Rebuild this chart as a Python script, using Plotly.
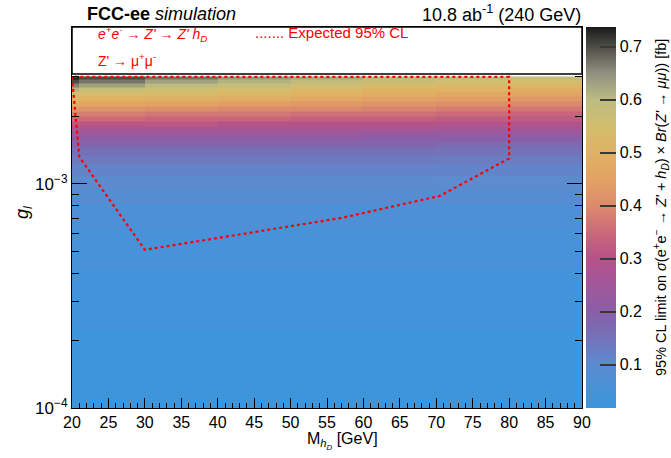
import plotly.graph_objects as go

# ---------------- data ----------------
mass_edges = [20, 21, 30, 40, 50, 60, 70, 80, 90]
g_edges = [1.0e-4, 2.234e-4, 4.14e-4, 6.24e-4, 8.06e-4, 9.40e-4, 1.075e-3, 1.215e-3,
           1.333e-3, 1.447e-3, 1.539e-3, 1.620e-3, 1.705e-3, 1.795e-3, 1.890e-3,
           1.989e-3, 2.094e-3, 2.204e-3, 2.321e-3, 2.443e-3, 2.572e-3, 2.693e-3,
           2.806e-3, 2.909e-3, 3.015e-3]
# 95% CL limit [fb], rows from lowest g to highest g, columns along mass
limit_fb = [
    [0.025, 0.025, 0.025, 0.025, 0.025, 0.025, 0.025, 0.025],
    [0.035, 0.035, 0.035, 0.035, 0.035, 0.035, 0.035, 0.035],
    [0.050, 0.050, 0.050, 0.050, 0.050, 0.050, 0.050, 0.050],
    [0.065, 0.065, 0.065, 0.065, 0.065, 0.065, 0.065, 0.065],
    [0.085, 0.085, 0.085, 0.085, 0.085, 0.085, 0.085, 0.085],
    [0.100, 0.100, 0.100, 0.100, 0.100, 0.100, 0.100, 0.100],
    [0.115, 0.115, 0.115, 0.115, 0.115, 0.115, 0.112, 0.112],
    [0.135, 0.135, 0.135, 0.135, 0.133, 0.133, 0.130, 0.130],
    [0.155, 0.155, 0.155, 0.155, 0.153, 0.152, 0.150, 0.150],
    [0.180, 0.180, 0.180, 0.180, 0.180, 0.180, 0.170, 0.170],
    [0.210, 0.210, 0.210, 0.210, 0.210, 0.200, 0.200, 0.200],
    [0.240, 0.240, 0.240, 0.240, 0.240, 0.230, 0.230, 0.230],
    [0.280, 0.270, 0.270, 0.270, 0.270, 0.270, 0.260, 0.260],
    [0.310, 0.310, 0.310, 0.300, 0.300, 0.300, 0.290, 0.290],
    [0.350, 0.350, 0.340, 0.340, 0.330, 0.330, 0.320, 0.320],
    [0.390, 0.380, 0.370, 0.370, 0.360, 0.360, 0.350, 0.340],
    [0.430, 0.420, 0.410, 0.400, 0.400, 0.390, 0.380, 0.370],
    [0.480, 0.460, 0.450, 0.440, 0.430, 0.420, 0.410, 0.400],
    [0.520, 0.500, 0.490, 0.480, 0.470, 0.450, 0.440, 0.430],
    [0.560, 0.540, 0.530, 0.520, 0.500, 0.480, 0.470, 0.460],
    [0.610, 0.580, 0.560, 0.550, 0.530, 0.510, 0.500, 0.490],
    [0.660, 0.630, 0.600, 0.580, 0.560, 0.540, 0.530, 0.520],
    [0.700, 0.670, 0.630, 0.610, 0.590, 0.570, 0.560, 0.550],
    [0.740, 0.700, 0.670, 0.640, 0.620, 0.600, 0.590, 0.580],
]
# expected 95% CL contour
cl_mass = [20.0, 20.2, 20.65, 21.0, 30.0, 57.0, 70.5, 80.0, 80.0, 20.0]
cl_g = [3.0e-3, 2.55e-3, 1.8e-3, 1.32e-3, 5.08e-4, 7.05e-4, 8.84e-4, 1.30e-3, 3.0e-3, 3.0e-3]

x_ticks = [20, 25, 30, 35, 40, 45, 50, 55, 60, 65, 70, 75, 80, 85, 90]
y_ticks = [1e-4, 1e-3]
y_ticktext = ["10<sup>\u22124</sup>", "10<sup>\u22123</sup>"]
y_minor = [2e-4, 3e-4, 4e-4, 5e-4, 6e-4, 7e-4, 8e-4, 9e-4, 2e-3, 3e-3, 4e-3, 5e-3]
cb_ticks = [0.1, 0.2, 0.3, 0.4, 0.5, 0.6, 0.7]

# ---------------- style ----------------
FONT = "Liberation Sans, Arial, sans-serif"
W, H = 671, 458
L, R, T, B = 72, 89, 27, 50
pw, ph = W - L - R, H - T - B

def px(x):
    return (x - L) / pw

def py(y):
    return (H - B - y) / ph

colorscale = [
    [0.000, "#3a96dc"],
    [0.045, "#4792d8"],
    [0.114, "#5c8bd0"],
    [0.184, "#7472b8"],
    [0.253, "#8a5ea8"],
    [0.323, "#a0589a"],
    [0.392, "#b6528a"],
    [0.462, "#cc6a78"],
    [0.531, "#dc8a6c"],
    [0.601, "#e2a264"],
    [0.670, "#e0b262"],
    [0.740, "#d2be6e"],
    [0.809, "#bcbc82"],
    [0.879, "#909080"],
    [0.949, "#4c4c46"],
    [1.000, "#1a1a1a"],
]

fig = go.Figure()
fig.add_trace(go.Heatmap(
    x=mass_edges, y=g_edges, z=limit_fb,
    colorscale=colorscale, zmin=0.018, zmax=0.737,
    hoverinfo="skip",
    colorbar=dict(
        x=px(586), xanchor="left", xpad=0, xref="paper",
        y=0.5, yanchor="middle", ypad=0, len=1, lenmode="fraction",
        thickness=30, thicknessmode="pixels",
        outlinewidth=0,
        tickmode="array", tickvals=cb_ticks, ticktext=[str(v) for v in cb_ticks],
        ticks="inside", ticklen=16, tickwidth=1.5, tickcolor="#3a3a30",
        tickfont=dict(family=FONT, size=16, color="black"),
    ),
))
fig.add_trace(go.Scatter(
    x=cl_mass, y=cl_g, mode="lines",
    line=dict(color="#ff0000", width=2.2, dash="dot"),
    hoverinfo="skip", showlegend=False,
))

fig.update_xaxes(
    range=[20, 90], tickmode="array", tickvals=x_ticks,
    ticks="inside", ticklen=10, tickwidth=1, tickcolor="black",
    minor=dict(dtick=1, tick0=20, ticks="inside", ticklen=5, tickcolor="black", tickwidth=1),
    showline=True, linecolor="black", linewidth=1, mirror="ticks",
    showgrid=False, zeroline=False,
    tickfont=dict(family=FONT, size=16, color="black"),
)
fig.update_yaxes(
    type="log", range=[-4, -2.3],
    tickmode="array", tickvals=y_ticks, ticktext=y_ticktext,
    ticks="inside", ticklen=15, tickwidth=1, tickcolor="black",
    minor=dict(tickmode="array", tickvals=y_minor, ticks="inside", ticklen=7,
               tickcolor="black", tickwidth=1),
    showline=True, linecolor="black", linewidth=1, mirror="ticks",
    showgrid=False, zeroline=False,
    tickfont=dict(family=FONT, size=17, color="black"),
)

# legend box
fig.add_shape(type="rect", xref="paper", yref="paper",
              x0=0, x1=1, y0=py(74), y1=1,
              fillcolor="white", line=dict(color="black", width=1.5), layer="above")

ann = []
ann.append(dict(x=px(85), y=py(14), text="<b>FCC-ee</b> <i>simulation</i>",
                xanchor="left", yanchor="middle", font=dict(size=18, color="black")))
ann.append(dict(x=px(583), y=py(14), text="10.8 ab<sup>-1</sup> (240 GeV)",
                xanchor="right", yanchor="middle", font=dict(size=18, color="black")))
ann.append(dict(x=px(96), y=py(34),
                text="<i>e<sup>+</sup>e<sup>-</sup> \u2192 Z' \u2192 Z' h<sub>D</sub></i>",
                xanchor="left", yanchor="middle", font=dict(size=14, color="#ff0000")))
ann.append(dict(x=px(253), y=py(33), text="....... Expected 95% CL",
                xanchor="left", yanchor="middle", font=dict(size=15, color="#ff0000")))
ann.append(dict(x=px(96), y=py(60), text="Z' \u2192 \u03bc<sup>+</sup>\u03bc<sup>-</sup>",
                xanchor="left", yanchor="middle", font=dict(size=14, color="#ff0000")))
ann.append(dict(x=px(342), y=py(441), text="M<sub><i>h<sub>D</sub></i></sub> [GeV]",
                xanchor="center", yanchor="middle", font=dict(size=16, color="black")))
ann.append(dict(x=px(24), y=py(212), text="<i>g<sub>l</sub></i>", textangle=-90,
                xanchor="center", yanchor="middle", font=dict(size=18, color="black")))
ann.append(dict(x=px(661), y=py(208),
                text="95% CL limit on <i>\u03c3</i>(e<sup>+</sup>e<sup>\u2212</sup> \u2192 <i>Z' + h<sub>D</sub></i>) "
                     "\u00d7 <i>Br</i>(<i>Z'</i> \u2192 <i>\u03bc\u03bc</i>)) [fb]",
                textangle=-90, xanchor="center", yanchor="middle",
                font=dict(size=14.5, color="black")))
for a in ann:
    a.update(xref="paper", yref="paper", showarrow=False)

fig.update_layout(
    width=W, height=H,
    margin=dict(l=L, r=R, t=T, b=B, pad=0),
    paper_bgcolor="white", plot_bgcolor="white",
    font=dict(family=FONT, size=16, color="black"),
    showlegend=False,
    annotations=ann,
)

fig.write_html("out.html", config={"displayModeBar": False},
               post_script="document.body.style.margin='0px';document.body.style.overflow='hidden';")
